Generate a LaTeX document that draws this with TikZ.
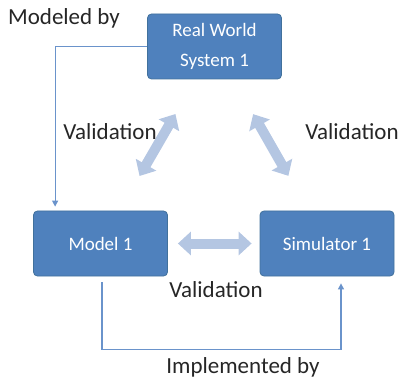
\documentclass[tikz,border=0pt]{standalone}
\usepackage{fontspec}
\setmainfont{Carlito}
\usetikzlibrary{arrows.meta}
\definecolor{boxfill}{HTML}{4F81BD}
\definecolor{boxline}{HTML}{41719C}
\definecolor{valcol}{HTML}{B4C6E2}
\definecolor{linkcol}{HTML}{6A93CB}
\begin{document}
\begin{tikzpicture}[x=0.5pt, y=-0.5pt,
  block/.style = {rectangle, rounded corners=2pt, fill=boxfill, draw=boxline, line width=0.4pt,
    minimum width=67pt, minimum height=32.5pt, inner sep=0pt, text=white, align=center,
    font=\fontsize{9.5}{15}\selectfont},
  lbl/.style = {font=\fontsize{11.5}{14}\selectfont, text=black!85},
  valarrow/.style = {valcol, line width=5pt,
    {Triangle[length=6.5pt,width=11.5pt]}-{Triangle[length=6.5pt,width=11.5pt]}},
  link/.style = {linkcol, line width=0.6pt, -{Triangle[length=3pt,width=3pt]}}]
\useasboundingbox (0,0) rectangle (401,379);
% boxes
\node[block] (real) at (214.5,46.5) {Real World\\System 1};
\node[block] (model) at (100.5,243.5) {Model 1};
\node[block] (sim) at (327,243.5) {Simulator 1};
% validation arrows
\draw[valarrow, shorten <=20pt, shorten >=20pt] (model) -- (real);
\draw[valarrow, shorten <=20pt, shorten >=20pt] (sim) -- (real);
\draw[valarrow, shorten <=5pt, shorten >=4pt] (model) -- (sim);
% labels
\node[lbl] (modeled) at (64,18) {Modeled by};
\node[lbl] (valleft) at (110,132) {Validation};
\node[lbl] (valright) at (352,132) {Validation};
\node[lbl] (valbottom) at (216,290) {Validation};
\node[lbl] (impl) at (243,367) {Implemented by};
% modelled by / implemented by
\draw[link] (real.west) -| ([xshift=11pt,yshift=2pt]model.north west);
\draw[link] ([xshift=0.75pt,yshift=-3pt]model.south) -- ++(0,67) -| ([xshift=7pt,yshift=-3.5pt]sim.south);
\end{tikzpicture}
\end{document}
